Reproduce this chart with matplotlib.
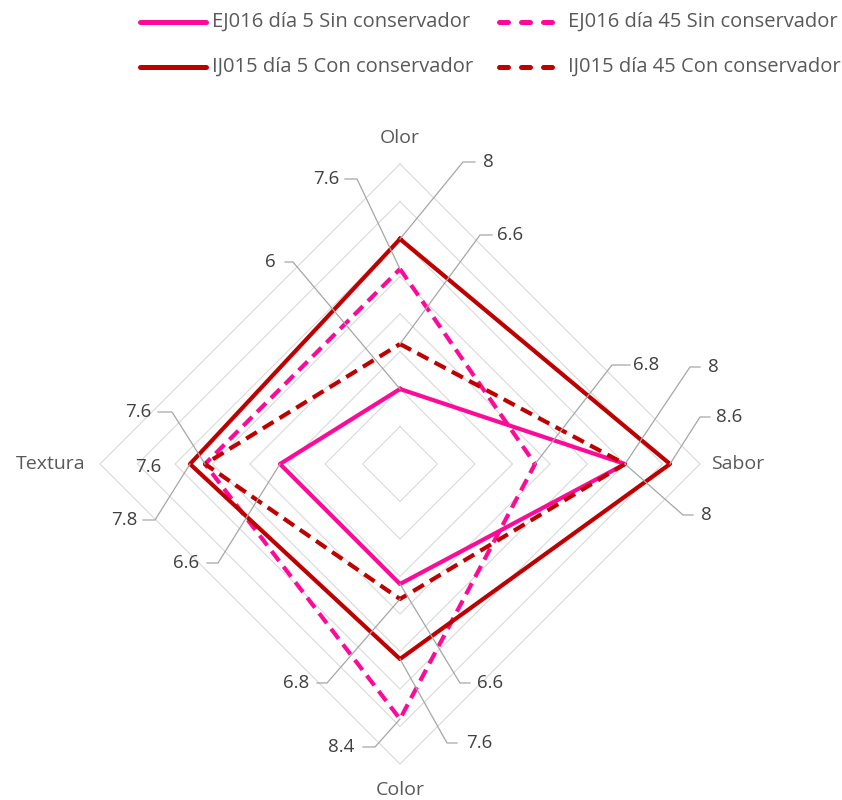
import numpy as np
import matplotlib
matplotlib.use("Agg")
import matplotlib.pyplot as plt
from matplotlib.lines import Line2D

plt.rcParams["font.family"] = ["Open Sans", "DejaVu Sans"]

# ---- data ----
categories = ["Olor", "Sabor", "Color", "Textura"]
series_names = [
    "EJ016 día 5 Sin conservador",
    "EJ016 día 45 Sin conservador",
    "IJ015 día 5 Con conservador",
    "IJ015 día 45 Con conservador",
]
ej016_dia5 = [6.0, 8.0, 6.6, 6.6]
ej016_dia45 = [7.6, 6.8, 8.4, 7.6]
ij015_dia5 = [8.0, 8.6, 7.6, 7.8]
ij015_dia45 = [6.6, 8.0, 6.8, 7.6]
series_values = [ej016_dia5, ej016_dia45, ij015_dia5, ij015_dia45]

scale_min, scale_max, scale_step = 5.0, 9.0, 0.5

# ---- styles ----
PINK = "#FF0A98"
DARK_RED = "#C00000"
series_colors = [PINK, PINK, DARK_RED, DARK_RED]
series_dashed = [False, True, False, True]
LINE_W = 3.0
DASHES = (3.0, 1.7)
GRID_C = "#D9D9D9"
LEADER_C = "#A6A6A6"
NUM_C = "#404040"
CAT_C = "#595959"
NUM_FS = 13.5
CAT_FS = 14
LEG_FS = 14.5

W, H = 842, 800
fig = plt.figure(figsize=(W / 100, H / 100), dpi=100)
fig.patch.set_facecolor("white")

cx, cy, R = 400, 464, 300  # centre and radius in pixels (from the top-left)
ax = fig.add_axes([(cx - R) / W, (H - cy - R) / H, 2 * R / W, 2 * R / H],
                  projection="polar")
ax.set_theta_zero_location("N")
ax.set_theta_direction(-1)
ax.set_ylim(scale_min, scale_max)
ax.set_axis_off()

n = len(categories)
theta = np.arange(n) * 2 * np.pi / n
theta_c = np.append(theta, theta[0])

# diamond gridlines
for level in np.arange(scale_min + scale_step, scale_max + 1e-9, scale_step):
    ax.plot(theta_c, [level] * (n + 1), color=GRID_C, lw=0.8, zorder=1,
            clip_on=False)

# series polygons
for vals, col, dashed in zip(series_values, series_colors, series_dashed):
    v = list(vals) + [vals[0]]
    ln, = ax.plot(theta_c, v, color=col, lw=LINE_W, zorder=3, clip_on=False,
                  solid_joinstyle="round", dash_joinstyle="round")
    if dashed:
        ln.set_dashes(DASHES)

# category labels
cat_text = [
    (0, 9.35, "center", "center"),
    (1, 9.15, "left", "center"),
    (2, 9.35, "center", "center"),
    (3, 9.20, "right", "center"),
]
for ci, rr, ha, va in cat_text:
    ax.text(theta[ci], rr, categories[ci], ha=ha, va=va, color=CAT_C,
            fontsize=CAT_FS, clip_on=False)


def to_fig(px, py):
    return px / W, (H - py) / H


# data labels: series, category, text x, text y, alignment, stub (near, elbow)
label_layout = [
    (1, 0, 339, 179, "right", (345, 357)),
    (2, 0, 483, 162, "left", (475, 463)),
    (3, 0, 497, 235, "left", (492, 480)),
    (0, 0, 276, 262, "right", (285, 293)),
    (1, 1, 633, 365, "left", (630, 612)),
    (0, 1, 708, 367, "left", (700, 690)),
    (2, 1, 716, 417, "left", (710, 700)),
    (3, 1, 701, 515, "left", (693, 683)),
    (3, 2, 309, 683, "right", (317, 327)),
    (0, 2, 477, 683, "left", (470, 460)),
    (1, 2, 354, 747, "right", (363, 375)),
    (2, 2, 466, 743, "left", (457, 447)),
    (1, 3, 151, 412, "right", (158, 172)),
    (3, 3, 161, 467, "right", None),
    (2, 3, 137, 520, "right", (143, 155)),
    (0, 3, 199, 563, "right", (207, 218)),
]
for si, ci, tx, ty, ha, stub in label_layout:
    val = series_values[si][ci]
    fig.text(*to_fig(tx, ty), f"{val:g}", ha=ha, va="center", color=NUM_C,
             fontsize=NUM_FS)
    if stub is not None:
        px, py = ax.transData.transform((theta[ci], val))
        sx, sy = to_fig(stub[0], ty)
        ex, ey = to_fig(stub[1], ty)
        fig.add_artist(Line2D([sx, ex, px / W], [sy, ey, py / H],
                              color=LEADER_C, lw=0.9, zorder=2))

# legend
leg_rows = [22, 67]
leg_cols = [(140, 206, 212), (498.5, 551.5, 568)]
for i, name in enumerate(series_names):
    row, col = divmod(i, 2)
    x0, x1, xt = leg_cols[col]
    y = leg_rows[row]
    a, b = to_fig(x0, y)
    c, d = to_fig(x1, y)
    ln = Line2D([a, c], [b, d], color=series_colors[i], lw=3.6,
                solid_capstyle="round", dash_capstyle="round")
    if series_dashed[i]:
        ln.set_dashes((1.8, 2.6))
    fig.add_artist(ln)
    fig.text(*to_fig(xt, y), name, ha="left", va="center", color=CAT_C,
             fontsize=LEG_FS)

fig.savefig("out.png", dpi=100, facecolor="white")
